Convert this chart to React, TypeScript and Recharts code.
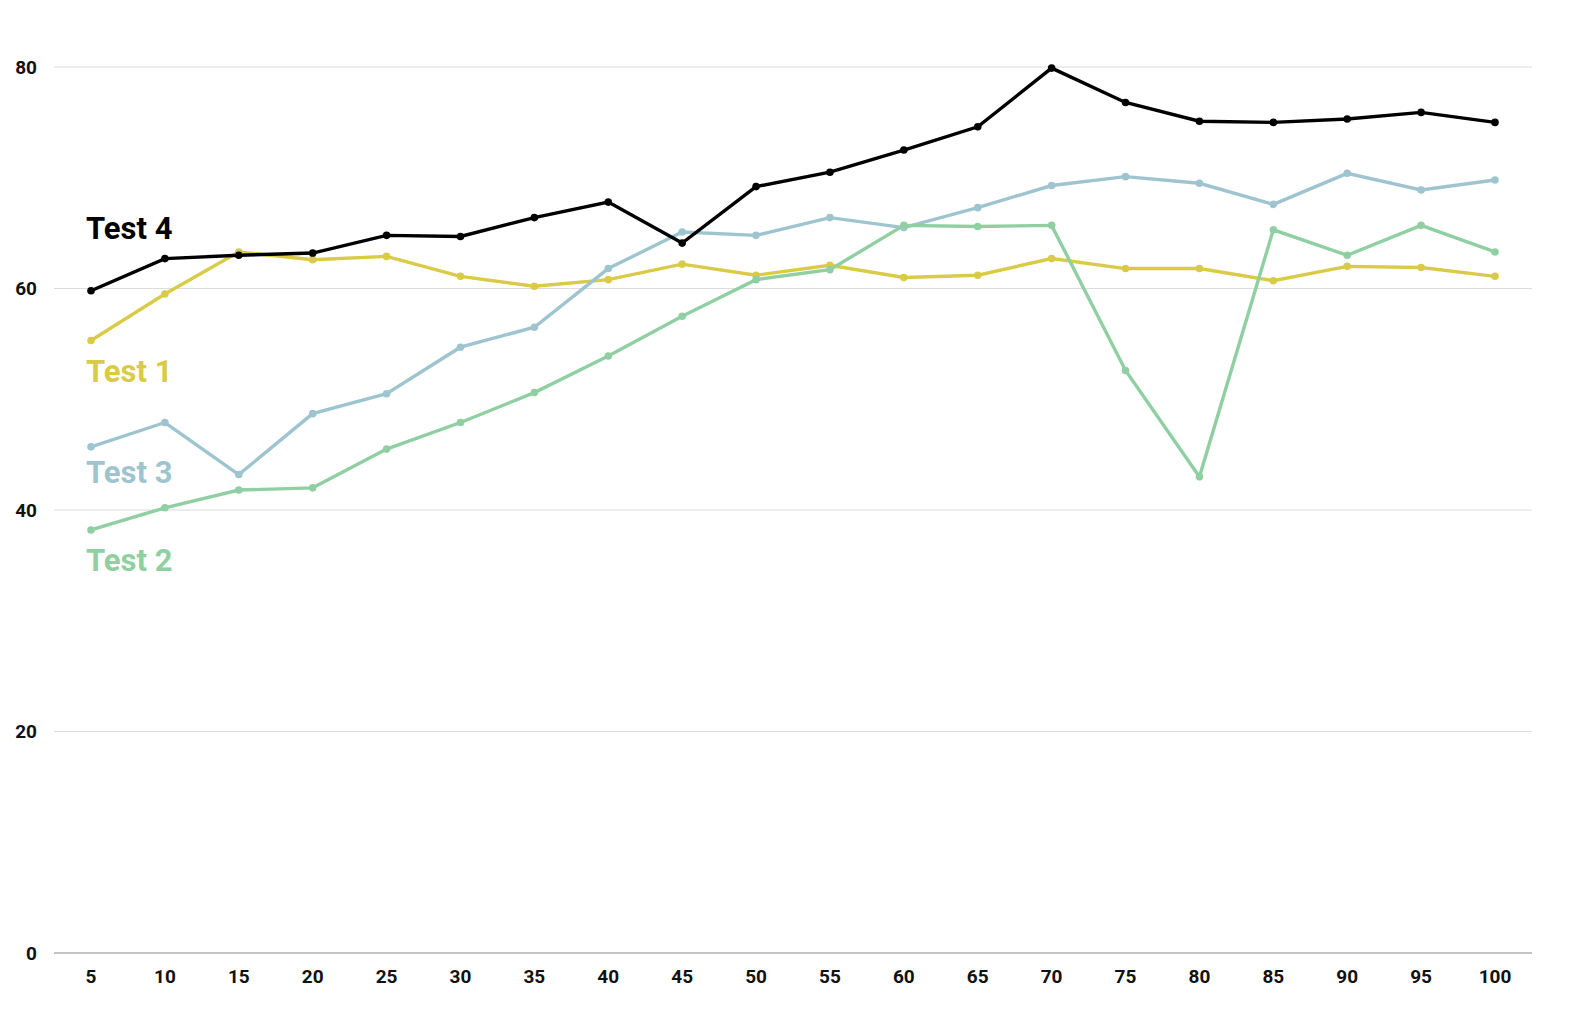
import { LineChart, Line, XAxis, YAxis, CartesianGrid, LabelList } from 'recharts'

const steps = [5, 10, 15, 20, 25, 30, 35, 40, 45, 50, 55, 60, 65, 70, 75, 80, 85, 90, 95, 100]
const test1 = [55.3, 59.5, 63.3, 62.6, 62.9, 61.1, 60.2, 60.8, 62.2, 61.2, 62.1, 61.0, 61.2, 62.7, 61.8, 61.8, 60.7, 62.0, 61.9, 61.1]
const test2 = [38.2, 40.2, 41.8, 42.0, 45.5, 47.9, 50.6, 53.9, 57.5, 60.8, 61.7, 65.7, 65.6, 65.7, 52.6, 43.0, 65.3, 63.0, 65.7, 63.3]
const test3 = [45.7, 47.9, 43.2, 48.7, 50.5, 54.7, 56.5, 61.8, 65.1, 64.8, 66.4, 65.5, 67.3, 69.3, 70.1, 69.5, 67.6, 70.4, 68.9, 69.8]
const test4 = [59.8, 62.7, 63.0, 63.2, 64.8, 64.7, 66.4, 67.8, 64.1, 69.2, 70.5, 72.5, 74.6, 79.9, 76.8, 75.1, 75.0, 75.3, 75.9, 75.0]
const yTicks = [0, 20, 40, 60, 80]

const data = steps.map((s, i) => ({
  step: s,
  test1: test1[i],
  test2: test2[i],
  test3: test3[i],
  test4: test4[i],
}))

const series = [
  { key: 'test1', name: 'Test 1', color: '#d9cb48', dy: 41 },
  { key: 'test3', name: 'Test 3', color: '#9ec5cf', dy: 36 },
  { key: 'test2', name: 'Test 2', color: '#8fcfa2', dy: 41 },
  { key: 'test4', name: 'Test 4', color: '#000000', dy: -52 },
]

const font = 'Roboto, "Noto Sans", sans-serif'

function seriesLabel(name: string, color: string, dy: number) {
  // only the first point gets the series name
  // eslint-disable-next-line @typescript-eslint/no-explicit-any
  return (props: any) => {
    if (props.index !== 0) return null
    return (
      <text
        x={Number(props.x) - 5}
        y={Number(props.y) + dy}
        fill={color}
        fontSize={31}
        fontWeight={700}
        fontFamily={font}
        textAnchor="start"
      >
        {name}
      </text>
    )
  }
}

export default function App() {
  return (
    <div style={{ position: 'absolute', left: 0, top: 0, background: '#fff' }}>
      <LineChart width={1570} height={1022} data={data} margin={{ top: 67, right: 38, left: 0, bottom: 27 }}>
        <CartesianGrid vertical={false} stroke="#dcdcdc" />
        <XAxis
          dataKey="step"
          padding={{ left: 37, right: 37 }}
          axisLine={{ stroke: '#999999' }}
          tickLine={false}
          tickMargin={11}
          height={42}
          tick={{ fill: '#111', fontSize: 19, fontWeight: 700, fontFamily: font }}
        />
        <YAxis
          domain={[0, 80]}
          ticks={yTicks}
          width={54}
          axisLine={false}
          tickLine={false}
          tickSize={0}
          tickMargin={17}
          tick={{ fill: '#111', fontSize: 19, fontWeight: 700, fontFamily: font }}
        />
        {series.map(s => (
          <Line
            key={s.key}
            dataKey={s.key}
            stroke={s.color}
            strokeWidth={3.4}
            dot={{ r: 3.8, fill: s.color, stroke: s.color, strokeWidth: 0 }}
            activeDot={false}
            isAnimationActive={false}
          >
            <LabelList dataKey={s.key} content={seriesLabel(s.name, s.color, s.dy)} />
          </Line>
        ))}
      </LineChart>
    </div>
  )
}
